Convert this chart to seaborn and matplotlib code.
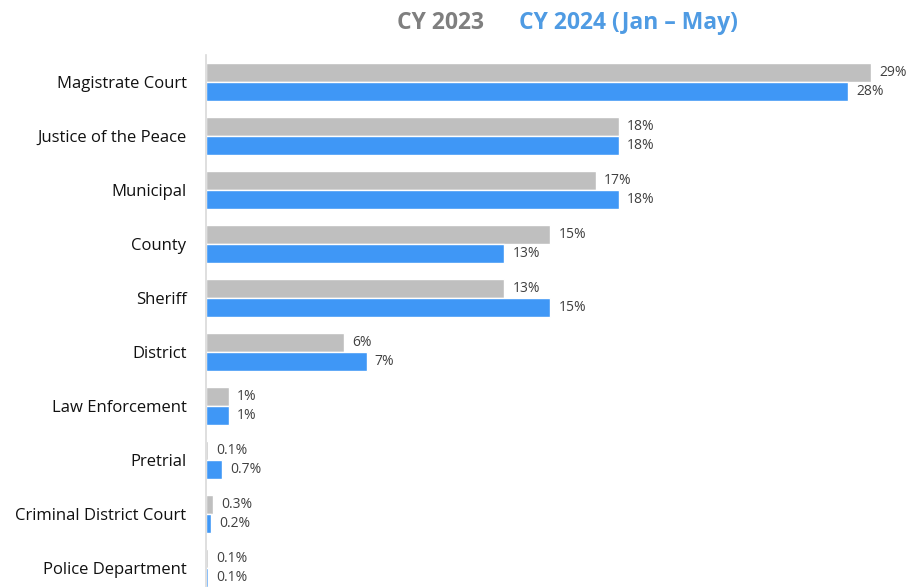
import matplotlib
matplotlib.use("Agg")
import matplotlib.pyplot as plt
import seaborn as sns
import pandas as pd

categories = [
    "Magistrate Court", "Justice of the Peace", "Municipal", "County", "Sheriff",
    "District", "Law Enforcement", "Pretrial", "Criminal District Court",
    "Police Department",
]
share_2023 = [29, 18, 17, 15, 13, 6, 1, 0.1, 0.3, 0.1]
share_2024 = [28, 18, 18, 13, 15, 7, 1, 0.7, 0.2, 0.1]
series_names = ["CY 2023", "CY 2024 (Jan \u2013 May)"]
colors = ["#BFBFBF", "#3F97F6"]
title_colors = ["#7F7F7F", "#4F9BE3"]

df = pd.DataFrame({
    "Source": categories * 2,
    "Share": share_2023 + share_2024,
    "Year": [series_names[0]] * len(categories) + [series_names[1]] * len(categories),
})

sns.set_theme(style="white")
plt.rcParams["font.family"] = ["Open Sans", "DejaVu Sans"]

W, H = 908, 587
fig = plt.figure(figsize=(W / 100, H / 100), dpi=100)
ax_left, ax_top, ax_bottom = 206, 55, 587
px_per_pct = 22.93
xmax = 30
ax = fig.add_axes([
    ax_left / W, 1 - ax_bottom / H,
    xmax * px_per_pct / W, (ax_bottom - ax_top) / H,
])

sns.barplot(
    data=df, y="Source", x="Share", hue="Year", order=categories,
    hue_order=series_names, palette=colors, width=0.7, orient="h",
    saturation=1, ax=ax, legend=False,
)

row_px = 54
ax.set_ylim(-0.5 + (ax_bottom - ax_top) / row_px, -0.5)
ax.set_xlim(0, xmax)

for cont, vals in zip(ax.containers, [share_2023, share_2024]):
    ax.bar_label(cont, labels=[f"{v:g}%" for v in vals], padding=6,
                 fontsize=10, color="#404040")

ax.set_xlabel("")
ax.set_ylabel("")
ax.set_xticks([])
ax.tick_params(axis="y", length=0, pad=14, labelsize=12, labelcolor="#111111")
for s in ["top", "right", "bottom"]:
    ax.spines[s].set_visible(False)
ax.spines["left"].set_color("#D9D9D9")
ax.spines["left"].set_linewidth(1.2)

fig.text(397 / W, 1 - 23 / H, series_names[0], color=title_colors[0],
         fontsize=16.5, fontweight="bold", ha="left", va="center")
fig.text(519 / W, 1 - 23 / H, series_names[1], color=title_colors[1],
         fontsize=16.5, fontweight="bold", ha="left", va="center")

fig.savefig("out.png", dpi=100)
